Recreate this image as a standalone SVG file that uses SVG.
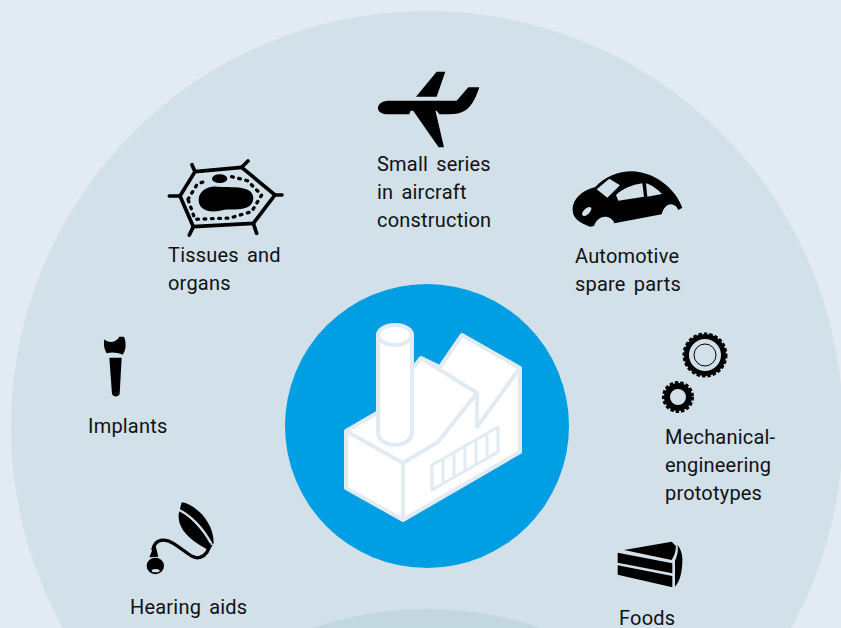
<svg xmlns="http://www.w3.org/2000/svg" width="841" height="628" viewBox="0 0 841 628">
<style>
.l{font-family:"Roboto","Liberation Sans",sans-serif;font-size:20px;letter-spacing:.2px;word-spacing:3px;fill:#111}
.f{fill:#fff;stroke:#e2ebf1;stroke-width:4;stroke-linejoin:round}
.s{fill:none;stroke:#e2ebf1;stroke-width:4;stroke-linejoin:round}
</style>
<rect width="841" height="628" fill="#e2ebf1"/>
<circle cx="427" cy="427" r="416" fill="#d1e0e9"/>
<circle cx="427" cy="959" r="350" fill="#c3d7e0"/>
<g id="center">
<circle cx="427" cy="426" r="142" fill="#009fe3"/>
<path class="f" d="M346 431V488L403 520L520 452V368L462 335L440 367L421 358L413 368L377 413Z"/>
<path class="s" d="M346 431L403 463V520M403 463L438 442L477 393L421 358M477 393V427L520 368"/>
<path class="s" style="stroke-width:3" d="M432 465L498 427V452L432 490ZM443 459V484M454 452V478M465 446V471M476 440V465M487 433V459"/>
<path class="f" d="M378 335V432C378 449 412 449 412 432V335Z"/>
<ellipse class="f" cx="395" cy="335" rx="17" ry="10"/>
</g>
<g id="aircraft">
<g transform="translate(160 60) scale(.3333)">
<path d="M654 145C654 130 668 122 690 122H890L925 82H958C942 130 925 163 870 163H838L830 152H752L748 163H685C668 163 654 158 654 145Z"/>
<path d="M768 110L830 35H856L830 110Z"/>
<path d="M758 150H826L852 262H836Z"/>
</g>
<text class="l" x="377" y="171">Small series</text>
<text class="l" x="377" y="199">in aircraft</text>
<text class="l" x="377" y="227">construction</text>
</g>
<g id="tissues">
<g transform="translate(160 60) scale(.3333)">
<path d="M60 408L105 335L245 322L345 405L280 490L100 500Z" fill="none" stroke="#000" stroke-width="11" stroke-linejoin="round"/>
<path d="M28 408H60M96 314L105 335M264 303L245 322M366 405H345M290 520L280 490M88 525L100 500" fill="none" stroke="#000" stroke-width="11" stroke-linecap="round"/>
<path d="M84 418L112 372L135 364M215 350L262 362L305 405L275 455L210 474L105 478L84 418" fill="none" stroke="#000" stroke-width="10" stroke-dasharray="5 17" stroke-linecap="round"/>
<ellipse cx="179" cy="356" rx="23" ry="13"/>
<path d="M116 420C116 395 140 378 170 380C205 382 255 378 272 395C285 408 282 432 262 442C240 453 205 445 180 452C145 460 116 448 116 420Z"/>
</g>
<text class="l" x="168" y="262">Tissues and</text>
<text class="l" x="168" y="290">organs</text>
</g>
<g id="automotive">
<g transform="translate(560 160) scale(.3333)">
<path fill-rule="evenodd" d="M38 150C38 115 70 90 105 82C135 50 175 34 215 34C285 36 345 85 367 143L355 150C345 125 315 125 305 163L163 190C155 165 115 160 102 198L90 200C60 190 38 175 38 150ZM110 88L148 56L180 76L142 113ZM168 105C190 85 215 75 247 70L252 110L175 122ZM258 70C275 75 295 90 306 102L262 110ZM66 163C68 150 85 135 94 143C96 153 80 170 70 168Z"/>
</g>
<text class="l" x="575" y="263">Automotive</text>
<text class="l" x="575" y="291">spare parts</text>
</g>
<g id="implants">
<g transform="translate(90 330) scale(.3333)">
<path d="M43 28C58 42 80 36 88 20L102 20C110 40 108 60 98 74C80 66 62 66 50 70C42 58 40 42 43 28Z"/>
<path d="M58 83H95L89 192C85 202 70 202 66 192Z"/>
</g>
<text class="l" x="88" y="433">Implants</text>
</g>
<g id="mechanical">
<circle cx="705" cy="355" r="18.5" fill="none" stroke="#000" stroke-width="5"/>
<circle cx="705" cy="355" r="21" fill="none" stroke="#000" stroke-width="3" stroke-dasharray="3.4 2"/>
<circle cx="705" cy="355" r="11" fill="none" stroke="#000" stroke-width="1"/>
<circle cx="678" cy="397" r="11" fill="none" stroke="#000" stroke-width="6"/>
<circle cx="678" cy="397" r="14.5" fill="none" stroke="#000" stroke-width="3" stroke-dasharray="3.4 2"/>
<text class="l" x="665" y="444">Mechanical-</text>
<text class="l" x="665" y="472">engineering</text>
<text class="l" x="665" y="500">prototypes</text>
</g>
<g id="hearing">
<g transform="translate(90 330) scale(.3333)">
<path d="M275 517C315 522 372 575 371 640L358 662C320 640 262 610 266 552Z"/>
<path d="M258 536C300 552 340 595 366 645" fill="none" stroke="#d1e0e9" stroke-width="7"/>
<path d="M188 660C195 625 225 625 250 640C290 665 310 690 330 682C350 675 358 660 357 640" fill="none" stroke="#000" stroke-width="10"/>
<path d="M178 682L195 640L205 680Z"/>
<ellipse cx="196" cy="708" rx="26" ry="25"/>
<ellipse cx="197" cy="722" rx="12" ry="5" fill="#d1e0e9"/>
</g>
<text class="l" x="130" y="614">Hearing aids</text>
</g>
<g id="foods">
<g transform="translate(600 530) scale(.3333)">
<path d="M72 60L215 35L228 48C228 65 222 78 215 90Z"/>
<path d="M53 68L217 100V130L53 98Z"/>
<path d="M53 106L217 138V172L53 134Z"/>
<path d="M232 44C245 60 250 80 246 110C244 135 238 155 225 170V92C232 78 236 60 232 44Z"/>
</g>
<text class="l" x="619" y="625">Foods</text>
</g>
</svg>
